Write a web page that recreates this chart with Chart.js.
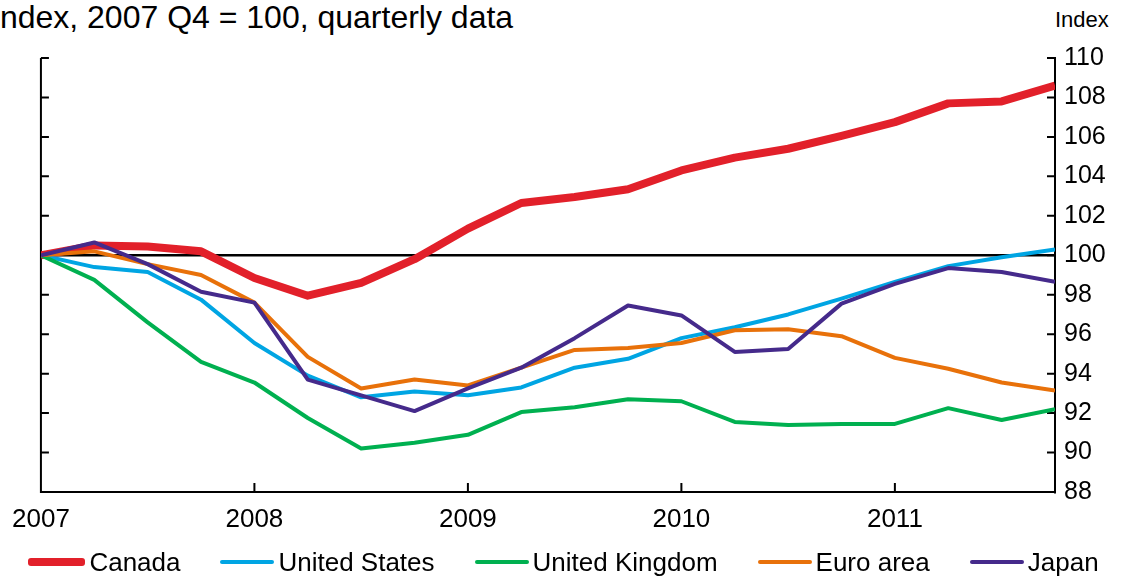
<!DOCTYPE html>
<html>
<head>
<meta charset="utf-8">
<script src="https://cdn.jsdelivr.net/npm/chart.js@4.4.0/dist/chart.umd.min.js"></script>
<style>
  body { margin: 0; width: 1127px; height: 577px; overflow: hidden; background: #fff; position: relative;
         font-family: "Liberation Sans", Arial, sans-serif; color: #000; }
  #title { position: absolute; left: -9px; top: 0px; font-size: 32px; line-height: 34px; white-space: nowrap; }
  #unit { position: absolute; left: 1055px; top: 7px; font-size: 22px; line-height: 26px; }
  #chart { position: absolute; left: 0; top: 0; }
  #legend { position: absolute; left: 0; top: 547px; width: 1127px; display: flex; justify-content: center;
            gap: 40px; font-size: 26px; line-height: 30px; white-space: nowrap; }
  .item { display: flex; align-items: center; }
  .swatch { display: inline-block; width: 54px; margin-right: 4px; border-radius: 3px; }
</style>
</head>
<body>
<div id="title">Index, 2007 Q4 = 100, quarterly data</div>
<div id="unit">Index</div>
<canvas id="chart" width="1127" height="577"></canvas>
<div id="legend"></div>
<script>
// one point per quarter, first point = 2007 Q4
const years = ['2007', '2008', '2009', '2010', '2011'];
const names = ['Canada', 'United States', 'United Kingdom', 'Euro area', 'Japan'];
const colors = ['#E2202A', '#00A5E3', '#00B050', '#E8710A', '#452A8B'];

const canada = [100, 100.5, 100.45, 100.2, 98.85, 97.95, 98.6, 99.8, 101.35, 102.65,
                102.95, 103.35, 104.3, 104.95, 105.4, 106.05, 106.75, 107.7, 107.8, 108.6];
const unitedStates = [100, 99.4, 99.15, 97.75, 95.55, 93.9, 92.8, 93.1, 92.9, 93.3,
                      94.3, 94.75, 95.8, 96.35, 97, 97.8, 98.65, 99.45, 99.9, 100.3];
const unitedKingdom = [100, 98.75, 96.6, 94.6, 93.55, 91.75, 90.2, 90.5, 90.9, 92.05,
                       92.3, 92.7, 92.6, 91.55, 91.4, 91.45, 91.45, 92.25, 91.65, 92.2];
const euroArea = [100, 100.2, 99.55, 99, 97.6, 94.85, 93.25, 93.7, 93.4, 94.3,
                  95.2, 95.3, 95.55, 96.2, 96.25, 95.9, 94.8, 94.25, 93.55, 93.15];
const japan = [100, 100.65, 99.55, 98.15, 97.6, 93.7, 92.9, 92.1, 93.25, 94.3,
               95.8, 97.45, 96.95, 95.1, 95.25, 97.55, 98.55, 99.35, 99.15, 98.65];

const series = [canada, unitedStates, unitedKingdom, euroArea, japan];
const widths = [8, 4, 4, 4, 4];

// short inward tick marks + left axis line
const axisMarks = {
  id: 'axisMarks',
  beforeDatasetsDraw(chart) {
    const { ctx, chartArea: a, scales: { x, y } } = chart;
    ctx.save();
    ctx.strokeStyle = '#000';
    ctx.lineWidth = 2;
    ctx.beginPath();
    ctx.moveTo(a.left, a.top);
    ctx.lineTo(a.left, a.bottom + 1);
    y.ticks.forEach(t => {
      const py = y.getPixelForValue(t.value);
      ctx.moveTo(a.left, py); ctx.lineTo(a.left + 8, py);
      ctx.moveTo(a.right, py); ctx.lineTo(a.right - 8, py);
    });
    x.ticks.forEach(t => {
      const px = x.getPixelForValue(t.value);
      ctx.moveTo(px, a.bottom); ctx.lineTo(px, a.bottom - 9);
    });
    ctx.stroke();
    ctx.restore();
  }
};

new Chart(document.getElementById('chart'), {
  type: 'line',
  data: {
    datasets: series.map((s, i) => ({
      label: names[i],
      data: s.map((v, q) => ({ x: q, y: v })),
      borderColor: colors[i],
      backgroundColor: colors[i],
      borderWidth: widths[i],
      pointRadius: 0,
      tension: 0,
      borderJoinStyle: 'round',
      order: series.length - 1 - i
    }))
  },
  options: {
    responsive: false,
    animation: false,
    layout: { padding: { left: 40, top: 58, right: 0, bottom: 0 } },
    plugins: { legend: { display: false }, tooltip: { enabled: false } },
    scales: {
      x: {
        type: 'linear',
        min: 0,
        max: canada.length - 1,
        afterBuildTicks: s => { s.ticks = years.map((_, i) => ({ value: i * 4 })); },
        afterFit: s => { s.height = 85; },
        ticks: {
          callback: v => years[v / 4],
          color: '#000',
          font: { family: 'Liberation Sans', size: 26 },
          padding: 12,
          maxRotation: 0,
          autoSkip: false
        },
        grid: { drawOnChartArea: false, drawTicks: false },
        border: { color: '#000', width: 2 }
      },
      y: {
        position: 'right',
        min: 88,
        max: 110,
        afterFit: s => { s.width = 72; },
        ticks: {
          stepSize: 2,
          color: '#000',
          font: { family: 'Liberation Sans', size: 25 },
          padding: 9
        },
        grid: {
          drawTicks: false,
          color: c => (c.tick && c.tick.value === 100 ? '#000' : 'rgba(0,0,0,0)'),
          lineWidth: 2.5
        },
        border: { color: '#000', width: 2 }
      }
    }
  },
  plugins: [axisMarks]
});

// legend
const legend = document.getElementById('legend');
names.forEach((n, i) => {
  const item = document.createElement('div');
  item.className = 'item';
  const sw = document.createElement('span');
  sw.className = 'swatch';
  sw.style.background = colors[i];
  sw.style.height = widths[i] + 'px';
  if (i === 0) sw.style.width = '57px';
  item.appendChild(sw);
  item.appendChild(document.createTextNode(n));
  legend.appendChild(item);
});
</script>
</body>
</html>
